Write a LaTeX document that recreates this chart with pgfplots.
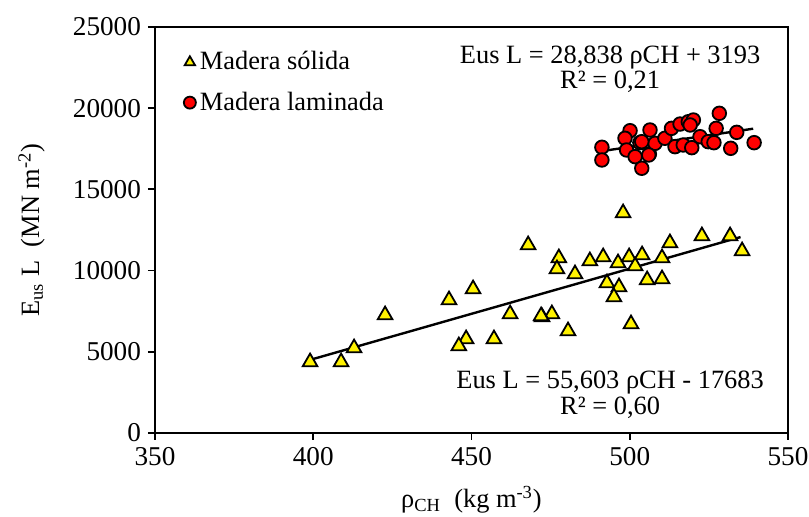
\documentclass[border=0pt]{standalone}
\usepackage{pgfplots}
\pgfplotsset{compat=1.18}
\usepackage{fontspec}
\setmainfont{Liberation Serif}
\begin{document}
\begin{tikzpicture}
\begin{axis}[
  scale only axis, width=316.5pt, height=203pt,
  xmin=350, xmax=550, ymin=0, ymax=25000,
  xtick={350,400,450,500,550}, ytick={0,5000,10000,15000,20000,25000},
  scaled ticks=false,
  axis line style={line width=0.9pt}, 
  tick style={line width=0.9pt, black}, major tick length=3.5pt,
  tick align=outside, xtick pos=bottom, ytick pos=left,
  /pgf/number format/assume math mode=true,
  /pgf/number format/set thousands separator={},
  tick label style={font=\fontsize{13.6}{15}\selectfont},
  xlabel={ρ\textsubscript{CH}\ \ (kg m\textsuperscript{-3})},
  ylabel={E\textsubscript{us} L\ \ (MN m\textsuperscript{-2})},
  every axis x label/.style={at={(axis description cs:0.5,-0.165)}, anchor=center, font=\fontsize{13.2}{15}\selectfont},
  every axis y label/.style={at={(axis description cs:-0.195,0.5)}, anchor=center, rotate=90, font=\fontsize{13.2}{15}\selectfont},
  legend style={draw=none, fill=none, at={(0.045,0.96)}, anchor=north west,
    font=\fontsize{13.2}{15}\selectfont, row sep=5.5pt, inner xsep=0pt},
  legend cell align=left,
  legend image code/.code={\draw[#1,mark size=3pt] plot coordinates {(0.12cm,0cm)};},
  clip=false,
]
\addplot[only marks, mark=triangle*, mark size=4.2pt, mark options={fill=yellow, draw=black, line width=0.9pt}] coordinates {
(497.9,13547) (477.6,10776) (477.0,10098) (482.7,9790) (487.4,10591)
(491.6,10837) (492.8,9236) (496.6,8990) (495.0,8374) (496.3,10468)
(499.8,10837) (501.7,10283) (503.9,10960) (510.2,10776) (505.5,9421)
(510.2,9483) (512.7,11700) (522.8,12131) (531.7,12131) (535.5,11207)
(500.4,6712) (480.5,6281) (475.4,7328) (472.3,7143)
(467.9,11576) (450.5,8867) (442.9,8190) (462.2,7328) (472.0,7205)
(448.3,5788) (446.0,5357) (457.1,5788)
(422.7,7266) (399.0,4372) (408.8,4372) (412.9,5234)
};
\addlegendentry{Madera sólida}
\addplot[only marks, mark=*, mark size=3.4pt, mark options={fill=red, draw=black, line width=0.9pt}] coordinates {
(491.2,17593) (491.2,16810) (500.1,18615) (498.5,18147) (506.4,18657)
(499.0,17426) (503.2,17876) (501.7,17015) (506.2,17180) (503.8,16300)
(508.0,17836) (511.1,18147) (513.2,18759) (515.9,19024) (518.5,19167)
(520.1,19273) (519.1,18965) (514.3,17631) (516.9,17734) (519.6,17569)
(522.2,18245) (524.8,17938) (526.6,17876) (527.3,18759) (528.3,19684)
(531.9,17530) (533.8,18513) (539.3,17876) (503.8,17938) (506.0,17118)
};
\addlegendentry{Madera laminada}
\addplot[black, line width=1.2pt, forget plot] coordinates {(398,4447) (535,12064)};
\addplot[black, line width=1.2pt, forget plot] coordinates {(491,17352) (539,18737)};
\node[font=\fontsize{13.2}{15}\selectfont, anchor=center] at (axis cs:493.8,23150) {Eus L = 28,838 ρCH + 3193};
\node[font=\fontsize{13.2}{15}\selectfont, anchor=center] at (axis cs:493.8,21650) {R² = 0,21};
\node[font=\fontsize{13.2}{15}\selectfont, anchor=center] at (axis cs:493.8,3100) {Eus L = 55,603 ρCH - 17683};
\node[font=\fontsize{13.2}{15}\selectfont, anchor=center] at (axis cs:493.8,1550) {R² = 0,60};
\end{axis}
\pgfresetboundingbox
\path (-77.5pt,-42pt) rectangle (327pt,216.5pt);
\end{tikzpicture}
\end{document}
